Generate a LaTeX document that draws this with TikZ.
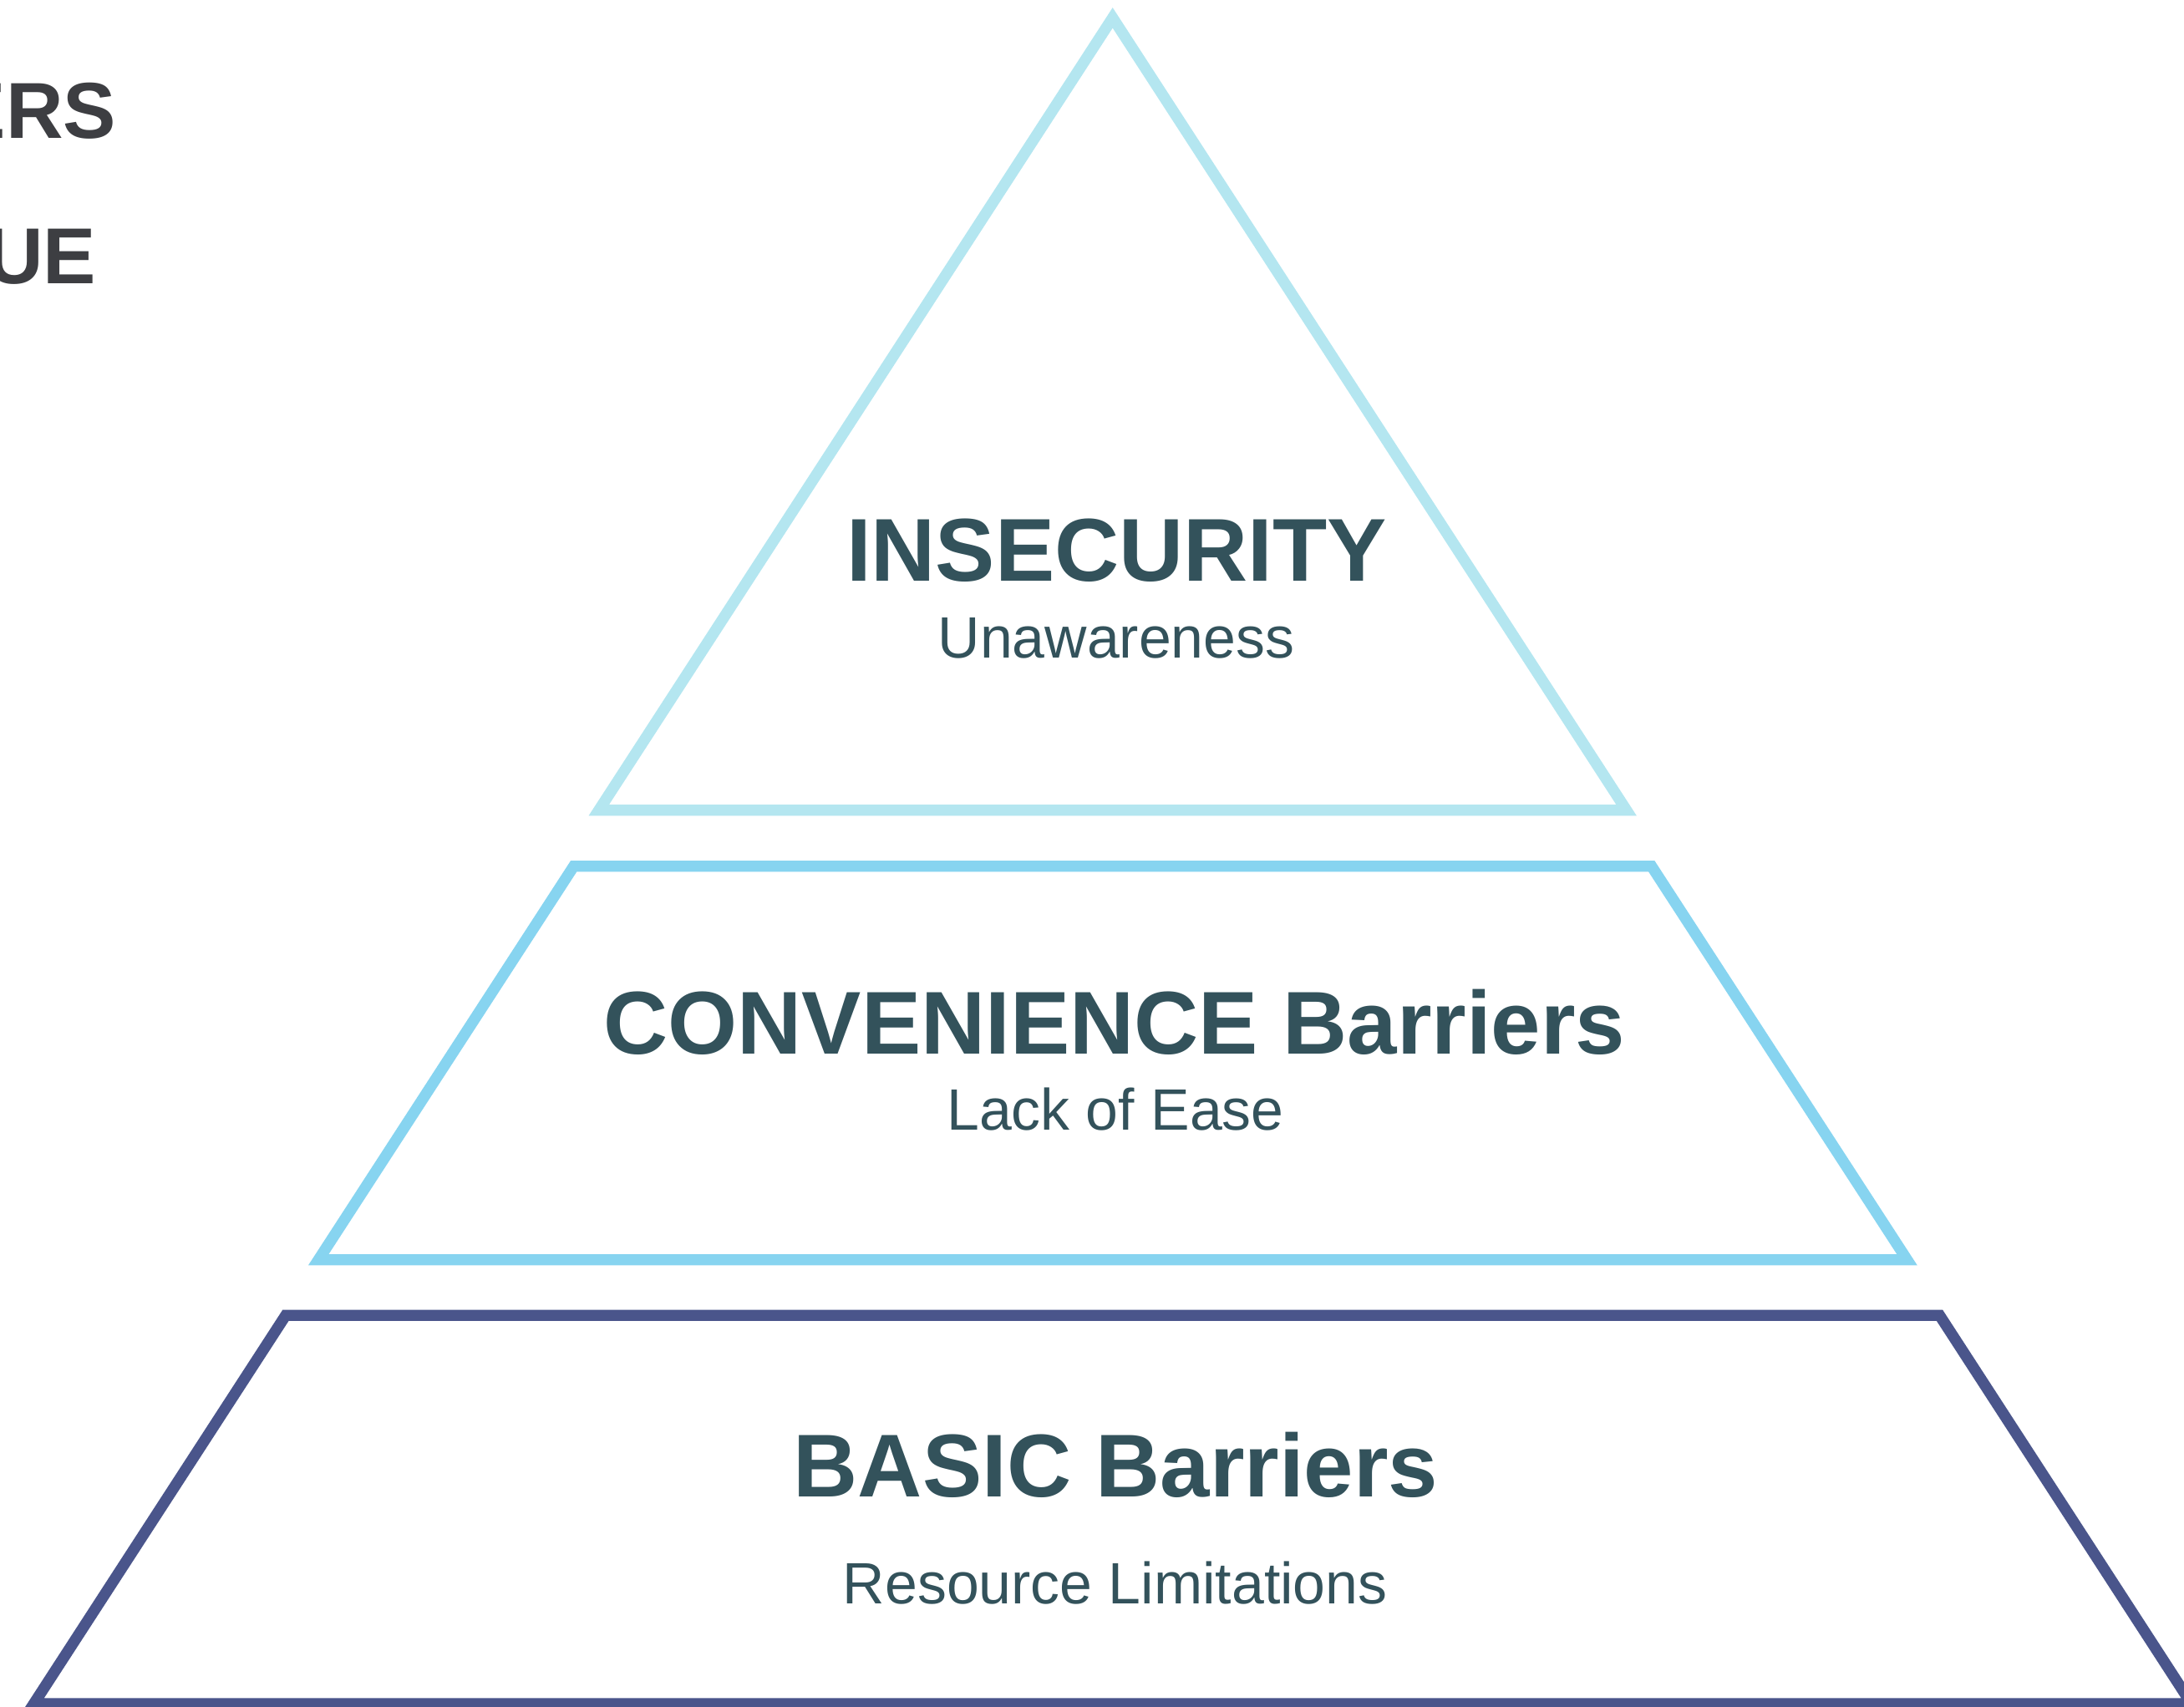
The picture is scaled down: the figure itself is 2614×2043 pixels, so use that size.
\documentclass[tikz,border=0pt]{standalone}
\usepackage{fontspec}
\setmainfont{Liberation Sans}
\definecolor{triC}{HTML}{B4E6F0}
\definecolor{convC}{HTML}{87D4F0}
\definecolor{basicC}{HTML}{4A558B}
\definecolor{textC}{HTML}{33525B}
\definecolor{sideC}{HTML}{3D3E42}
\tikzset{
  layer/.style={line width=3.325pt, line join=miter, miter limit=10},
  tri/.style={layer, draw=triC},
  conv/.style={layer, draw=convC},
  basic/.style={layer, draw=basicC},
  title/.style={inner sep=0pt, anchor=base, text=textC, font=\fontsize{26.7}{32}\selectfont\bfseries},
  subtitle/.style={inner sep=0pt, anchor=base, text=textC, font=\fontsize{17.45}{21}\selectfont},
  sidetext/.style={inner sep=0pt, anchor=base east, text=sideC, font=\fontsize{23.75}{28}\selectfont\bfseries}
}
\begin{document}
\begin{tikzpicture}[x=0.25pt,y=-0.25pt]
\useasboundingbox (0,0) rectangle (2614,2043);
\clip (0,0) rectangle (2614,2043);
% layers
\draw[tri] (1331.7,21.3) -- (1946.6,969.6) -- (716.8,969.6) -- cycle;
\draw[conv] (686.7,1036.7) -- (1976.7,1036.7) -- (2282.5,1507.7) -- (381.2,1507.7) -- cycle;
\draw[basic] (341.9,1574.3) -- (2321.5,1574.3) -- (2622.8,2038.9) -- (40.6,2038.9) -- cycle;
% texts
\node[title] (ins) at (1336.5,695.5) {INSECURITY};
\node[subtitle] (unaw) at (1336,787.7) {Unawareness};
\node[title] (conv) at (1334,1261) {CONVENIENCE Barriers};
\node[subtitle] (lack) at (1335,1352.7) {Lack of Ease};
\node[title] (basic) at (1335.7,1791.7) {BASIC Barriers};
\node[subtitle] (res) at (1334.8,1919.3) {Resource Limitations};
% clipped side texts
\node[sidetext] (ers) at (140,165.7) {ERS};
\node[sidetext] (ue) at (116,340) {UE};
\end{tikzpicture}
\end{document}
